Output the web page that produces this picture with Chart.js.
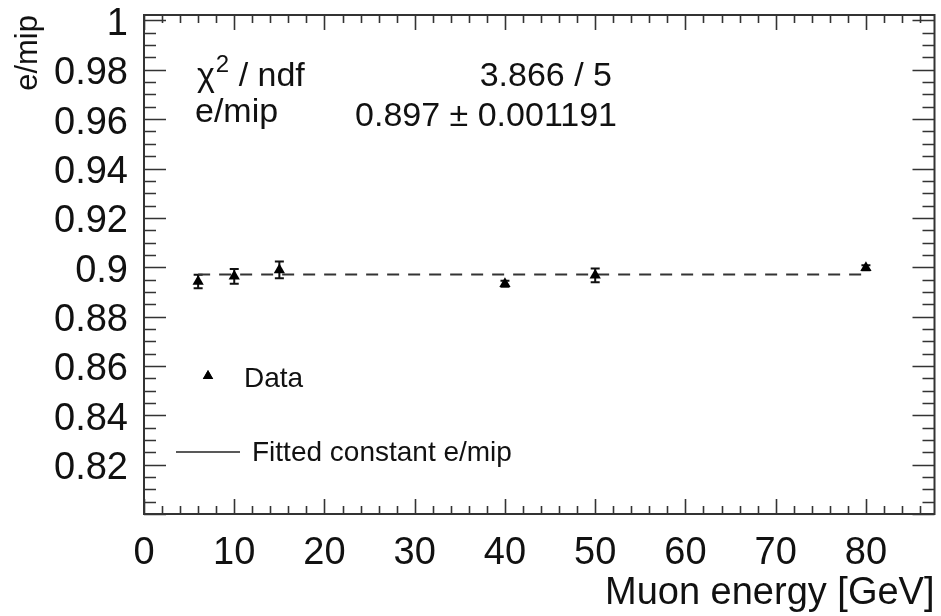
<!DOCTYPE html>
<html>
<head>
<meta charset="utf-8">
<script src="https://cdn.jsdelivr.net/npm/chart.js@4.4.1/dist/chart.umd.min.js"></script>
<style>
  html, body { margin: 0; padding: 0; background: #fff; }
</style>
</head>
<body>
<canvas id="chart" width="941" height="616"></canvas>
<script>
// measured points (muon energy in GeV, e/mip and its error)
const energies = [6, 10, 15, 40, 50, 80];
const eOverMip = [0.8942, 0.8963, 0.8989, 0.8933, 0.8967, 0.8998];
const eOverMipErr = [0.0027, 0.003, 0.0034, 0.0012, 0.0028, 0.001];

// constant fit
const fitRange = [6, 80];
const fitValue = 0.897;

const xTicks = [0, 10, 20, 30, 40, 50, 60, 70, 80];
const yTicks = [0.82, 0.84, 0.86, 0.88, 0.9, 0.92, 0.94, 0.96, 0.98, 1];

const statLabels = ["/ ndf", "e/mip"];
const statValues = ["3.866 / 5", "0.897 \u00b1 0.001191"];

const FONT = '"Liberation Sans", Arial, sans-serif';

// ROOT style frame with inward ticks on all sides
const frameTicks = {
  id: "frameTicks",
  afterDatasetsDraw(chart) {
    const { ctx, chartArea: a, scales: { x, y } } = chart;
    ctx.save();
    ctx.strokeStyle = "#333";
    ctx.lineWidth = 1.6;
    ctx.beginPath();
    for (let v = 0.8; v <= y.max + 1e-9; v += 0.005) {
      const py = Math.round(y.getPixelForValue(v)) + 0.5;
      const major = Math.abs(v / 0.02 - Math.round(v / 0.02)) < 1e-6;
      const len = major ? 22 : 12;
      ctx.moveTo(a.left, py); ctx.lineTo(a.left + len, py);
      ctx.moveTo(a.right, py); ctx.lineTo(a.right - len, py);
    }
    for (let v = 0; v <= x.max; v += 2) {
      const px = Math.round(x.getPixelForValue(v)) + 0.5;
      const len = v % 10 === 0 ? 15 : 8;
      ctx.moveTo(px, a.bottom); ctx.lineTo(px, a.bottom - len);
      ctx.moveTo(px, a.top); ctx.lineTo(px, a.top + len);
    }
    ctx.stroke();
    ctx.lineWidth = 2;
    ctx.strokeRect(a.left, a.top, a.right - a.left, a.bottom - a.top);
    ctx.restore();
  }
};

// vertical error bars with caps
const errorBars = {
  id: "errorBars",
  beforeDatasetsDraw(chart) {
    const { ctx, scales: { x, y } } = chart;
    ctx.save();
    ctx.strokeStyle = "#111";
    ctx.lineWidth = 2;
    ctx.beginPath();
    energies.forEach((e, i) => {
      const px = x.getPixelForValue(e);
      const top = y.getPixelForValue(eOverMip[i] + eOverMipErr[i]);
      const bot = y.getPixelForValue(eOverMip[i] - eOverMipErr[i]);
      ctx.moveTo(px, top); ctx.lineTo(px, bot);
      ctx.moveTo(px - 4.5, top); ctx.lineTo(px + 4.5, top);
      ctx.moveTo(px - 4.5, bot); ctx.lineTo(px + 4.5, bot);
    });
    ctx.stroke();
    ctx.restore();
  }
};

// fit statistics box and legend drawn inside the frame
const annotations = {
  id: "annotations",
  afterDraw(chart) {
    const { ctx } = chart;
    ctx.save();
    ctx.fillStyle = "#111";
    ctx.textBaseline = "alphabetic";

    // chi2 / ndf row
    ctx.font = "34px " + FONT;
    ctx.textAlign = "left";
    ctx.fillText("\u03c7", 197, 86);
    let w = ctx.measureText("\u03c7").width;
    ctx.font = "24px " + FONT;
    ctx.fillText("2", 197 + w + 1, 72);
    const w2 = ctx.measureText("2").width;
    ctx.font = "34px " + FONT;
    ctx.fillText(" " + statLabels[0], 197 + w + 1 + w2, 86);
    ctx.fillText(statLabels[1], 195, 122);
    ctx.textAlign = "right";
    ctx.fillText(statValues[0], 612, 86);
    ctx.fillText(statValues[1], 617, 126);

    // legend
    const ds = chart.data.datasets;
    Chart.helpers.drawPoint(ctx, { pointStyle: "triangle", radius: 6, rotation: 0, borderWidth: 0 }, 208, 376);
    ctx.fillStyle = "#000";
    ctx.fill();
    ctx.strokeStyle = "#222";
    ctx.lineWidth = 1.6;
    ctx.beginPath();
    ctx.moveTo(176, 452); ctx.lineTo(240, 452);
    ctx.stroke();
    ctx.fillStyle = "#111";
    ctx.textAlign = "left";
    ctx.textBaseline = "middle";
    ctx.font = "28px " + FONT;
    ctx.fillText(ds[0].label, 244, 379);
    ctx.fillText(ds[1].label, 252, 453);
    ctx.restore();
  }
};

new Chart(document.getElementById("chart"), {
  type: "scatter",
  data: {
    datasets: [
      {
        label: "Data",
        data: energies.map((e, i) => ({ x: e, y: eOverMip[i] })),
        pointStyle: "triangle",
        pointRadius: 6.5,
        backgroundColor: "#000",
        borderColor: "#000",
        borderWidth: 0
      },
      {
        type: "line",
        label: "Fitted constant e/mip",
        data: fitRange.map(e => ({ x: e, y: fitValue })),
        borderColor: "#333",
        borderWidth: 2,
        borderDash: [12, 9],
        pointRadius: 0,
        fill: false
      }
    ]
  },
  options: {
    responsive: false,
    animation: false,
    layout: { padding: { top: 15, right: 3, left: 0, bottom: 0 } },
    plugins: { legend: { display: false }, tooltip: { enabled: false } },
    scales: {
      x: {
        type: "linear",
        min: 0,
        max: 87.6,
        grid: { display: false, drawTicks: false },
        border: { display: false },
        afterBuildTicks: s => { s.ticks = xTicks.map(v => ({ value: v })); },
        afterFit: s => { s.height = 102; s.paddingLeft = 0; s.paddingRight = 0; },
        ticks: { font: { family: FONT, size: 38 }, color: "#111", padding: 17, maxRotation: 0, autoSkip: false },
        title: { display: true, text: "Muon energy [GeV]", align: "end", color: "#111", font: { family: FONT, size: 38 }, padding: { top: 0, bottom: 0 } }
      },
      y: {
        min: 0.8,
        max: 1.0022,
        grid: { display: false, drawTicks: false },
        border: { display: false },
        afterBuildTicks: s => { s.ticks = yTicks.map(v => ({ value: v })); },
        afterFit: s => { s.width = 144; s.paddingTop = 0; s.paddingBottom = 0; },
        ticks: {
          font: { family: FONT, size: 38 },
          color: "#111",
          padding: 16,
          labelOffset: 4,
          autoSkip: false,
          callback: v => String(Math.round(v * 100) / 100)
        },
        title: { display: true, text: "e/mip", align: "end", color: "#111", font: { family: FONT, size: 31 }, padding: { top: 10, bottom: 0 } }
      }
    }
  },
  plugins: [errorBars, frameTicks, annotations]
});
</script>
</body>
</html>
